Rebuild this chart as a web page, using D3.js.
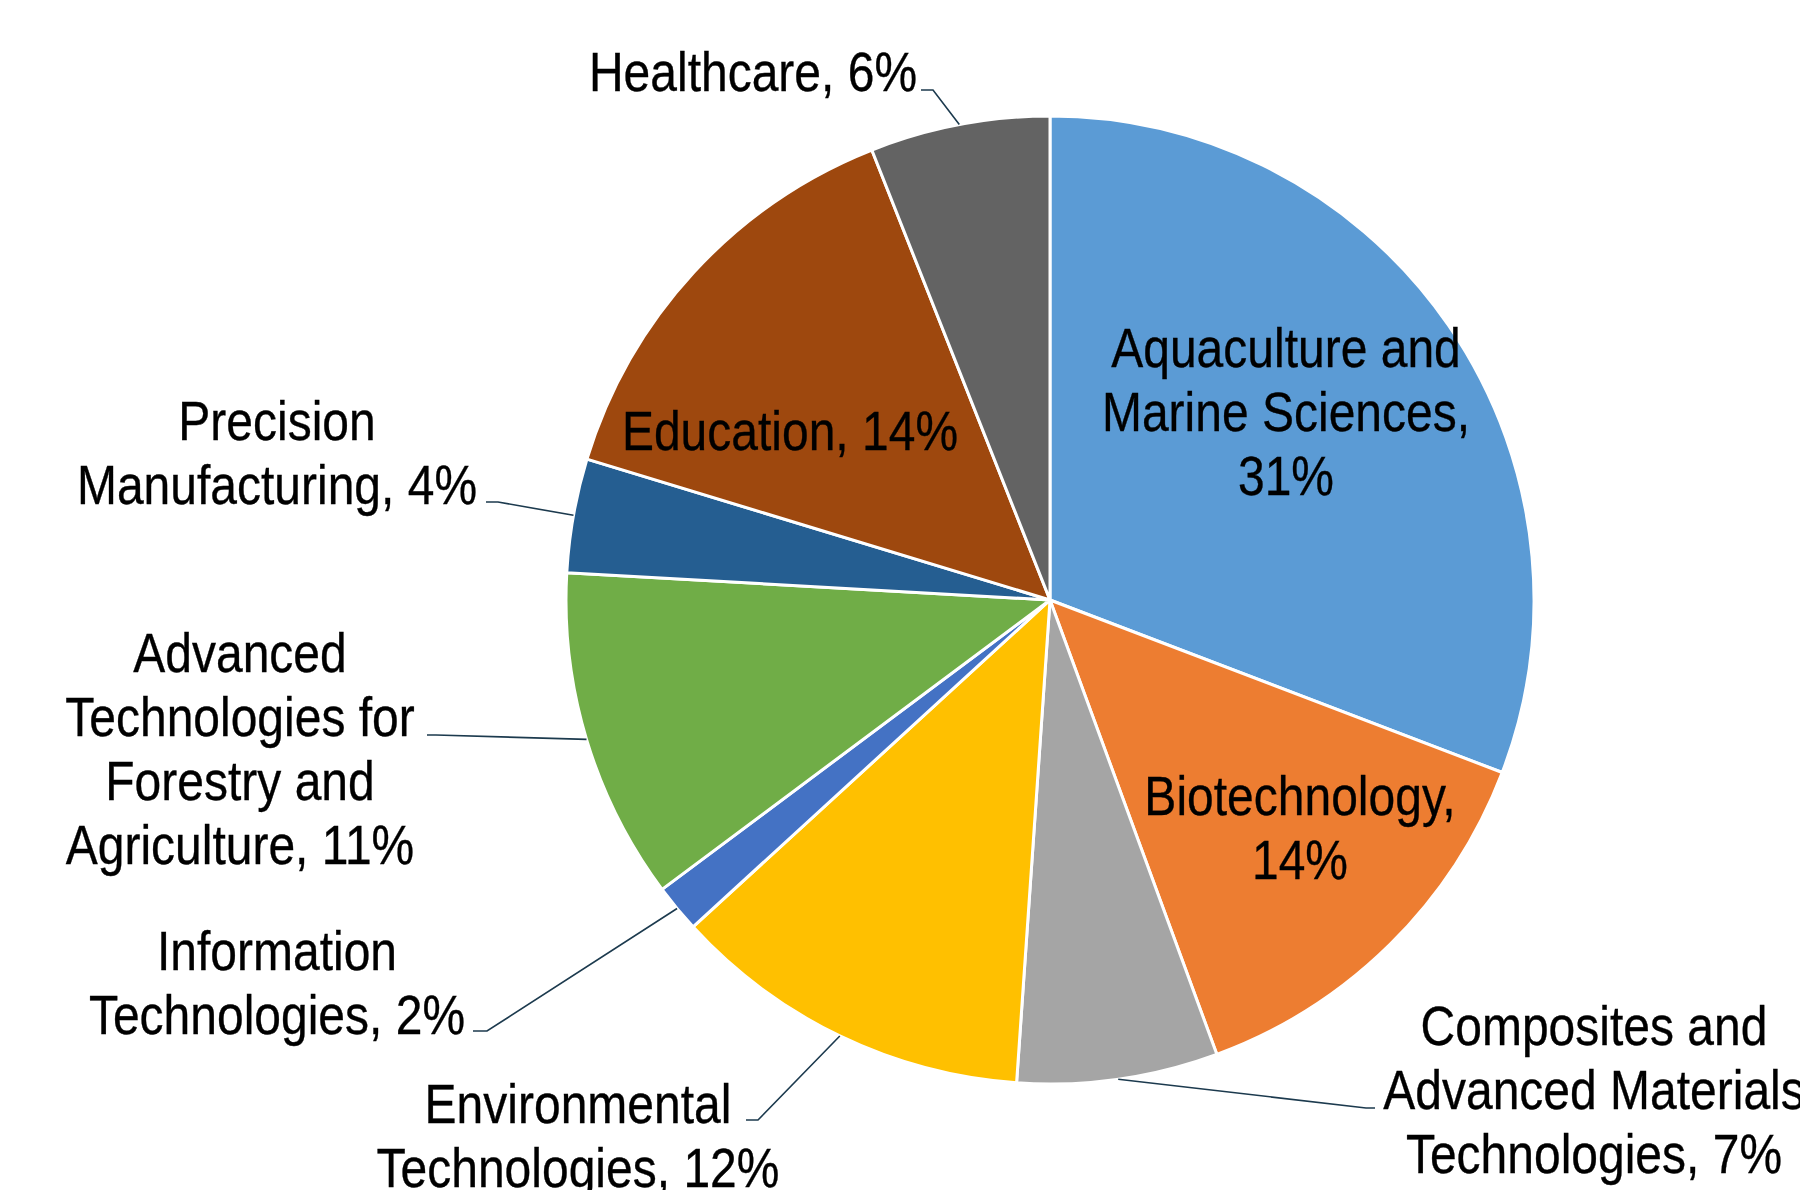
<!DOCTYPE html>
<html>
<head>
<meta charset="utf-8">
<script src="https://cdn.jsdelivr.net/npm/d3@7/dist/d3.min.js"></script>
<style>
  html, body { margin: 0; padding: 0; background: #fff; }
  svg text { font-family: "Liberation Sans", Arial, sans-serif; }
</style>
</head>
<body>
<svg id="chart" width="1800" height="1190"></svg>
<script>
// slice data, clockwise from 12 o'clock
var categories = [
    "Aquaculture and Marine Sciences",
    "Biotechnology",
    "Composites and Advanced Materials Technologies",
    "Environmental Technologies",
    "Information Technologies",
    "Advanced Technologies for Forestry and Agriculture",
    "Precision Manufacturing",
    "Education",
    "Healthcare"
];
var shares = [30.8, 13.6, 6.7, 12.1, 1.6, 11.1, 3.8, 14.3, 6.0];
var colors = ["#5B9BD5", "#ED7D31", "#A5A5A5", "#FFC000", "#4472C4", "#70AD47", "#255E91", "#9E480E", "#636363"];

// how each label text is broken over lines (last line gets the percent)
var labelLines = [
    ["Aquaculture and", "Marine Sciences,", ""],
    ["Biotechnology,", ""],
    ["Composites and", "Advanced Materials", "Technologies,"],
    ["Environmental", "Technologies,"],
    ["Information", "Technologies,"],
    ["Advanced", "Technologies for", "Forestry and", "Agriculture,"],
    ["Precision", "Manufacturing,"],
    ["Education,"],
    ["Healthcare,"]
];

var width = 1800, height = 1190;
var cx = 1050, cy = 600, radius = 484;
var fontSize = 55.5, lineH = 64;
var narrow = 0.865;   // squeeze Liberation Sans into an Arial Narrow look

// label placement: x = centre of text block, y = first baseline,
// elbow = where the leader bends before reaching the text
var labelLayout = [
    {x: 1286, y: 367, inside: true},
    {x: 1300, y: 815, inside: true},
    {x: 1594, y: 1045, elbow: [1366, 1108], end: [1375, 1108]},
    {x: 578, y: 1123, elbow: [758, 1120], end: [746, 1120]},
    {x: 277, y: 970, elbow: [487, 1031], end: [473, 1031]},
    {x: 240, y: 672, elbow: [436, 735], end: [427, 735]},
    {x: 277, y: 440, elbow: [498, 502], end: [486, 502]},
    {x: 790, y: 450, inside: true},
    {x: 753, y: 91, elbow: [933, 90], end: [921, 90]}
];

var svg = d3.select("#chart");
var total = d3.sum(shares);

var pie = d3.pie().sort(null).value(function (d) { return d; });
var arcs = pie(shares);

var arc = d3.arc().innerRadius(0).outerRadius(radius);

var g = svg.append("g").attr("transform", "translate(" + cx + "," + cy + ")");

g.selectAll("path.slice")
    .data(arcs)
    .enter().append("path")
    .attr("class", "slice")
    .attr("d", arc)
    .attr("fill", function (d, i) { return colors[i]; })
    .attr("stroke", "#fff")
    .attr("stroke-width", 3)
    .attr("stroke-linejoin", "round");

// leader lines: from the slice mid-angle on the rim to the elbow, then to the text
arcs.forEach(function (d, i) {
    var lay = labelLayout[i];
    if (lay.inside) return;
    var mid = (d.startAngle + d.endAngle) / 2;
    var px = cx + radius * Math.sin(mid);
    var py = cy - radius * Math.cos(mid);
    svg.append("polyline")
        .attr("points", [[px, py], lay.elbow, lay.end].map(function (p) { return p.join(","); }).join(" "))
        .attr("fill", "none")
        .attr("stroke", "#1c3a4e")
        .attr("stroke-width", 1.6);
});

// data labels
arcs.forEach(function (d, i) {
    var lay = labelLayout[i];
    var pct = Math.round(d.value / total * 100) + "%";
    var lines = labelLines[i].slice();
    var last = lines.length - 1;
    lines[last] = lines[last] === "" ? pct : lines[last] + " " + pct;

    var t = svg.append("text")
        .attr("transform", "translate(" + lay.x + "," + lay.y + ") scale(" + narrow + ",1)")
        .attr("text-anchor", "middle")
        .attr("font-size", fontSize)
        .attr("fill", "#000")
        .attr("stroke", "#000")
        .attr("stroke-width", 0.35);
    lines.forEach(function (ln, k) {
        t.append("tspan")
            .attr("x", 0)
            .attr("y", k * lineH)
            .text(ln);
    });
});
</script>
</body>
</html>
